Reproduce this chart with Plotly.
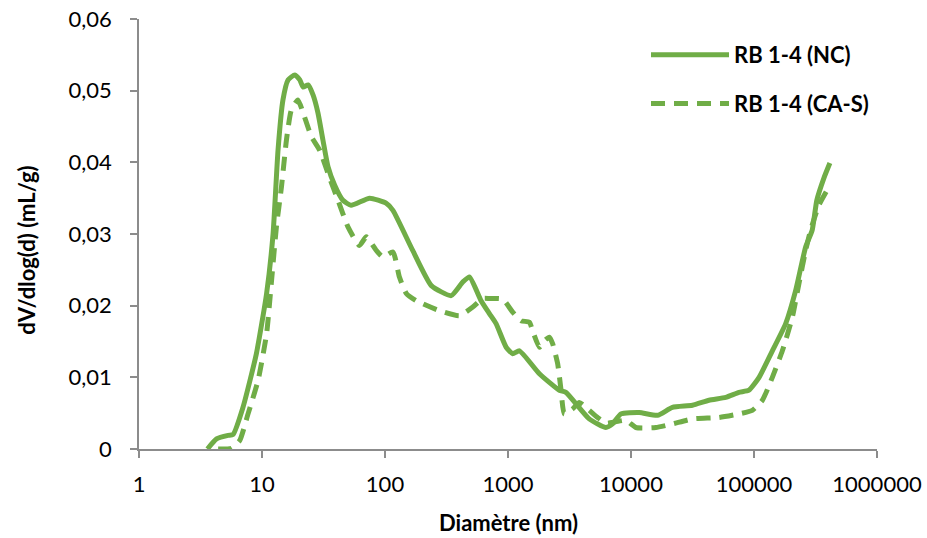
import plotly.graph_objects as go

# Data
nc_x = [3.6, 4.27, 5.3, 5.8, 7.0, 9.0, 10.9, 12.3, 13.5, 14.8, 16.3, 18.5, 20.3, 21.6, 23.7, 26, 28.5, 31.3,
        34.4, 39, 45.5, 53, 75, 102, 116, 168, 238, 345, 429, 486, 604, 706, 800, 966, 1092, 1238, 1800,
        2614, 2957, 4573, 6250, 7080, 8280, 11650, 16400, 21700, 31600, 43100, 58900, 75500, 91000,
        110000, 141000, 181000, 218000, 263000, 297000, 324000, 370000, 414000]
nc_y = [0.0, 0.0014, 0.0019, 0.0020, 0.0058, 0.0133, 0.0217, 0.0300, 0.0417, 0.0487, 0.0515, 0.0522, 0.0515,
        0.0505, 0.0508, 0.0494, 0.0469, 0.0431, 0.0394, 0.0368, 0.0347, 0.0340, 0.0350, 0.0343, 0.0333,
        0.0277, 0.0228, 0.0214, 0.0233, 0.0240, 0.0207, 0.0189, 0.0175, 0.0142, 0.0133, 0.0137, 0.0105,
        0.0082, 0.0079, 0.0042, 0.0030, 0.0035, 0.0049, 0.0051, 0.0047, 0.0058, 0.0061, 0.0068, 0.0072,
        0.0079, 0.0082, 0.0100, 0.0137, 0.0175, 0.0221, 0.0282, 0.0305, 0.0347, 0.0378, 0.0399]

cas_x = [4.4, 5.65, 6.6, 7.7, 9.3, 10.9, 11.9, 13.1, 14.4, 15.8, 17.3, 19.6, 21.6, 25.2, 29.4, 35.5, 41.5,
         50, 62, 70.5, 85, 96, 116, 131, 149, 179, 277, 403, 517, 624, 706, 906, 1092, 1277, 1492, 1585,
         1800, 1974, 2168, 2306, 2534, 2700, 2870, 3350, 3800, 4573, 5350, 6250, 7500, 9080, 10970, 15900,
         21700, 31600, 52000, 75500, 96800, 117000, 141000, 170000, 205000, 232000, 263000, 288000,
         337000, 414000]
cas_y = [0.0, 0.0001, 0.0012, 0.0049, 0.0096, 0.0161, 0.0231, 0.0310, 0.0366, 0.0431, 0.0473, 0.0487,
         0.0469, 0.0436, 0.0417, 0.0378, 0.0347, 0.0310, 0.0284, 0.0296, 0.0277, 0.0268, 0.0275, 0.0240,
         0.0217, 0.0207, 0.0193, 0.0186, 0.0198, 0.0210, 0.0210, 0.0209, 0.0191, 0.0179, 0.0177, 0.0165,
         0.0142, 0.0151, 0.0156, 0.0147, 0.0119, 0.0082, 0.0049, 0.0056, 0.0065, 0.0054, 0.0044, 0.0036,
         0.0038, 0.0040, 0.0030, 0.0030, 0.0035, 0.0042, 0.0044, 0.0049, 0.0054, 0.0068, 0.0100, 0.0137,
         0.0184, 0.0231, 0.0277, 0.0305, 0.0340, 0.0368]

x_tickvals = [1, 10, 100, 1000, 10000, 100000, 1000000]
x_ticktext = ["1", "10", "100", "1000", "10000", "100000", "1000000"]
y_tickvals = [0, 0.01, 0.02, 0.03, 0.04, 0.05, 0.06]
y_ticktext = ["0", "0,01", "0,02", "0,03", "0,04", "0,05", "0,06"]

series_names = ["RB 1-4 (NC)", "RB 1-4 (CA-S)"]
x_title = "Diamètre (nm)"
y_title = "dV/dlog(d) (mL/g)"
GREEN = "#70AD47"
FONT = "Lato, 'Liberation Sans', sans-serif"

fig = go.Figure()
fig.add_trace(go.Scatter(x=nc_x, y=nc_y, mode="lines", name=series_names[0], legendgroup="a",
                         line=dict(color=GREEN, width=5, shape="spline", smoothing=0.5)))
fig.add_trace(go.Scatter(x=cas_x, y=cas_y, mode="lines", name=series_names[1], legendgroup="b",
                         line=dict(color=GREEN, width=5, dash="14px,9px", shape="spline", smoothing=0.5)))

axis_line = dict(showline=True, linecolor="#8C8C8C", linewidth=1.5, ticks="outside", ticklen=7,
                 tickcolor="#8C8C8C", tickwidth=1.5, showgrid=False, zeroline=False,
                 ticklabeloverflow="allow", automargin=False)

fig.update_layout(
    width=927, height=538,
    paper_bgcolor="white", plot_bgcolor="white",
    margin=dict(l=139, r=50, t=19, b=89, autoexpand=False),
    font=dict(family=FONT, size=22, color="#000000"),
    showlegend=True,
    hovermode=False,
    legend=dict(x=0.687, y=0.965, xanchor="left", yanchor="top", bgcolor="rgba(0,0,0,0)",
                font=dict(size=22, family=FONT, weight="bold"), tracegroupgap=17, itemwidth=78),
    xaxis=dict(type="log", range=[0, 6], tickvals=x_tickvals, ticktext=x_ticktext,
               ticklabelstandoff=8, **axis_line),
    yaxis=dict(range=[0, 0.06], tickvals=y_tickvals, ticktext=y_ticktext,
               ticklabelstandoff=14, **axis_line),
    annotations=[
        dict(text="<b>" + x_title + "</b>", xref="paper", yref="paper", x=0.5, y=-0.17,
             xanchor="center", yanchor="middle", showarrow=False, font=dict(size=22, family=FONT)),
        dict(text="<b>" + y_title + "</b>", xref="paper", yref="paper", x=-0.152, y=0.463,
             xanchor="center", yanchor="middle", textangle=-90, showarrow=False,
             font=dict(size=22, family=FONT)),
    ],
)

# remove the default page margin so the 927x538 figure fills the window exactly
fig.write_html("out.html", config={"displayModeBar": False},
               post_script="document.body.style.margin='0';")
